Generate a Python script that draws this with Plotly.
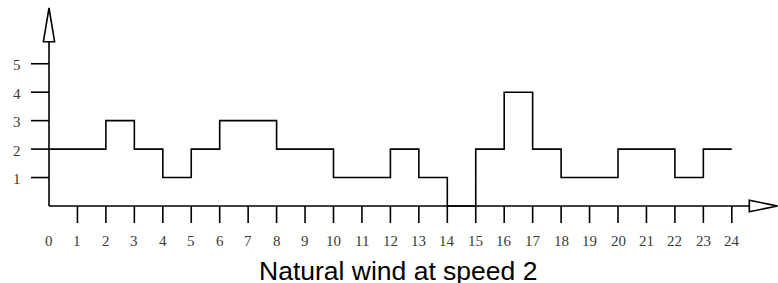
import plotly.graph_objects as go

hours = list(range(0, 25))
speed = [2, 2, 3, 2, 1, 2, 3, 3, 2, 2, 1, 1, 2, 1, 0, 2, 4, 2, 1, 1, 2, 2, 1, 2]
x_tick_labels = [str(h) for h in hours]
y_ticks = [1, 2, 3, 4, 5]
title_text = "Natural wind at speed 2"

W, H = 778, 283
S = 28.45  # px per unit
x0px, y0px = 49, 206
xr = [-x0px / S, (W - x0px) / S]
yr = [(y0px - H) / S, y0px / S]

fig = go.Figure()
ys = speed + [speed[-1]]
fig.add_trace(go.Scatter(x=hours, y=ys, mode="lines", line=dict(color="black", width=1.6, shape="hv"),
                         hoverinfo="skip", showlegend=False, cliponaxis=False))

shapes = []
lw = 1.6
ytip, ybase, yhw = (y0px - 8) / S, (y0px - 41.7) / S, 5.6 / S
xbase, xtip, xhw = (749.3 - x0px) / S, (777.5 - x0px) / S, 5.8 / S
shapes.append(dict(type="line", x0=0, y0=0, x1=0, y1=ybase, line=dict(color="black", width=lw)))
shapes.append(dict(type="line", x0=0, y0=0, x1=xbase, y1=0, line=dict(color="black", width=lw)))
shapes.append(dict(type="path", path=f"M {-yhw} {ybase} L 0 {ytip} L {yhw} {ybase} Z",
                   line=dict(color="black", width=lw), fillcolor="white"))
shapes.append(dict(type="path", path=f"M {xbase} {-xhw} L {xtip} 0 L {xbase} {xhw} Z",
                   line=dict(color="black", width=lw), fillcolor="white"))
for h in hours[1:]:
    shapes.append(dict(type="line", x0=h, y0=0, x1=h, y1=-17 / S, line=dict(color="black", width=lw)))
for v in y_ticks:
    shapes.append(dict(type="line", x0=-18 / S, y0=v, x1=0, y1=v, line=dict(color="black", width=lw)))

annotations = []
lab_font = dict(family="Liberation Serif, serif", size=15, color="#3a3a3a")
for h, lab in zip(hours, x_tick_labels):
    annotations.append(dict(x=h, y=(y0px - 241) / S, text=lab, showarrow=False, xanchor="center", yanchor="middle",
                            font=lab_font))
for v in y_ticks:
    annotations.append(dict(x=(16.5 - x0px) / S, y=v - 1.5 / S, text=str(v), showarrow=False, xanchor="center",
                            yanchor="middle", font=lab_font))
annotations.append(dict(x=(397.5 - x0px) / S, y=(y0px - 271) / S, text=title_text, showarrow=False,
                        xanchor="center", yanchor="middle",
                        font=dict(family="Liberation Sans, Arial, sans-serif", size=26.5, color="black")))

fig.update_layout(width=W, height=H, margin=dict(l=0, r=0, t=0, b=0),
                  paper_bgcolor="white", plot_bgcolor="white",
                  xaxis=dict(range=xr, visible=False, fixedrange=True),
                  yaxis=dict(range=yr, visible=False, fixedrange=True),
                  shapes=shapes, annotations=annotations, showlegend=False)
fig.write_html("out.html", config={"displayModeBar": False},
               post_script=["document.body.style.margin='0';document.body.style.overflow='hidden';"])
